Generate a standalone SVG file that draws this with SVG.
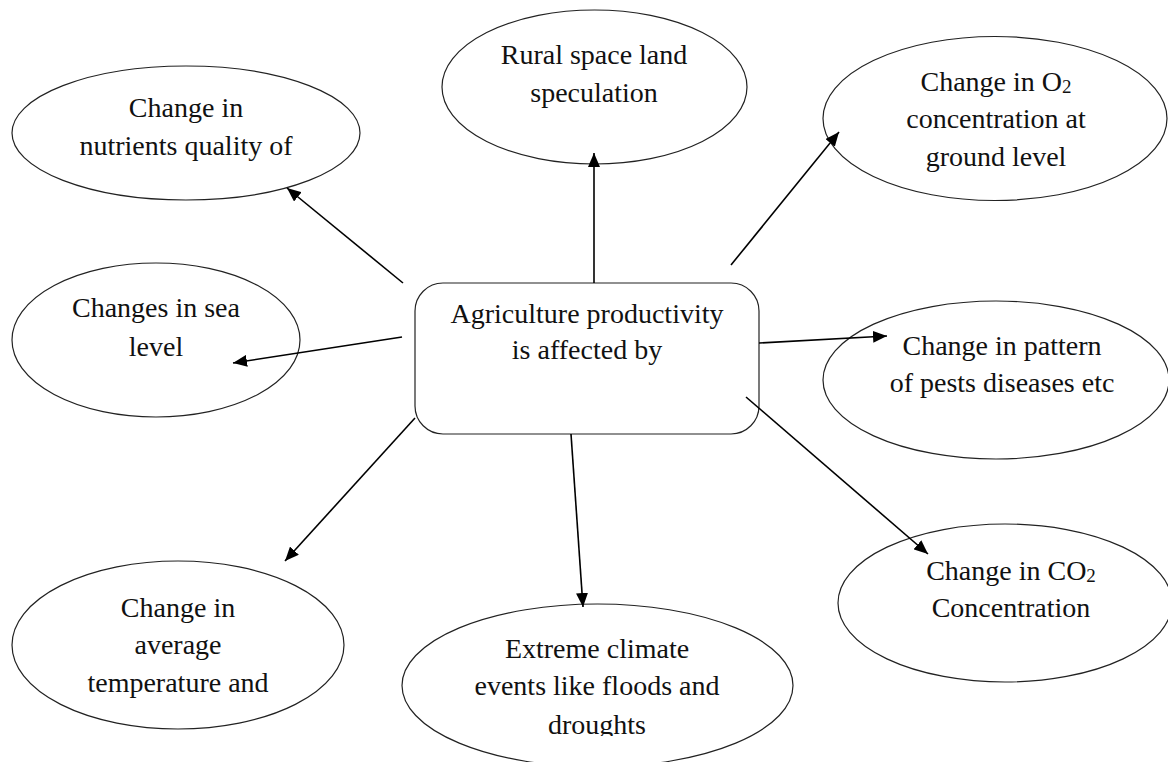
<svg xmlns="http://www.w3.org/2000/svg" width="1168" height="762" viewBox="0 0 1168 762">
<style>
.n{fill:#fff;stroke:#222;stroke-width:1.2}
.t{font-family:"Liberation Serif","Times New Roman",serif;font-size:28px;fill:#111;text-anchor:middle}
.c{stroke:#000;stroke-width:1.6;fill:none;marker-end:url(#ah)}
</style>
<defs>
<marker id="ah" markerUnits="userSpaceOnUse" markerWidth="14" markerHeight="12" viewBox="0 0 14 12" refX="14" refY="6" orient="auto">
<path d="M0,0 L14,6 L0,12 Z" fill="#000"/>
</marker>
<clipPath id="clipDrought"><rect x="0" y="0" width="1168" height="736"/></clipPath>
</defs>
<rect width="1168" height="762" fill="#fff"/>

<g id="node-nutrients">
<ellipse class="n" cx="186" cy="133" rx="174" ry="67"/>
<text class="t" x="186" y="117">Change in</text>
<text class="t" x="186" y="155">nutrients quality of</text>
</g>

<g id="node-rural">
<ellipse class="n" cx="594.5" cy="87" rx="152.5" ry="77"/>
<text class="t" x="594" y="64">Rural space land</text>
<text class="t" x="594" y="102">speculation</text>
</g>

<g id="node-o2">
<ellipse class="n" cx="995" cy="118.5" rx="172" ry="82"/>
<text class="t" x="996" y="91">Change in O<tspan font-size="19" dy="2">2</tspan></text>
<text class="t" x="996" y="128">concentration at</text>
<text class="t" x="996" y="166">ground level</text>
</g>

<g id="node-sea">
<ellipse class="n" cx="156" cy="340" rx="144" ry="77"/>
<text class="t" x="156" y="317">Changes in sea</text>
<text class="t" x="156" y="356">level</text>
</g>

<g id="node-center">
<rect class="n" x="415" y="283" width="344" height="151" rx="28" ry="28"/>
<text class="t" x="587" y="323">Agriculture productivity</text>
<text class="t" x="587" y="359">is affected by</text>
</g>

<g id="node-pests">
<ellipse class="n" cx="996" cy="380" rx="173" ry="79"/>
<text class="t" x="1002" y="355">Change in pattern</text>
<text class="t" x="1002" y="392">of pests diseases etc</text>
</g>

<g id="node-temp">
<ellipse class="n" cx="178" cy="645" rx="166" ry="84"/>
<text class="t" x="178" y="617">Change in</text>
<text class="t" x="178" y="654">average</text>
<text class="t" x="178" y="692">temperature and</text>
</g>

<g id="node-extreme">
<ellipse class="n" cx="597.5" cy="685.5" rx="195.5" ry="81.5"/>
<text class="t" x="597" y="658">Extreme climate</text>
<text class="t" x="597" y="695">events like floods and</text>
<text class="t" x="597" y="734" clip-path="url(#clipDrought)">droughts</text>
</g>

<g id="node-co2">
<ellipse class="n" cx="1005" cy="603" rx="167" ry="79"/>
<text class="t" x="1011" y="580">Change in CO<tspan font-size="19" dy="2">2</tspan></text>
<text class="t" x="1011" y="617">Concentration</text>
</g>

<g id="connectors">
<line class="c" x1="403" y1="283" x2="287" y2="188"/>
<line class="c" x1="594" y1="283" x2="594" y2="153"/>
<line class="c" x1="731" y1="265" x2="839" y2="132"/>
<line class="c" x1="402" y1="337" x2="233" y2="363"/>
<line class="c" x1="759" y1="343" x2="887" y2="336"/>
<line class="c" x1="746" y1="397" x2="928" y2="554"/>
<line class="c" x1="571" y1="434" x2="583" y2="607"/>
<line class="c" x1="415" y1="418" x2="285" y2="561"/>
</g>
</svg>
